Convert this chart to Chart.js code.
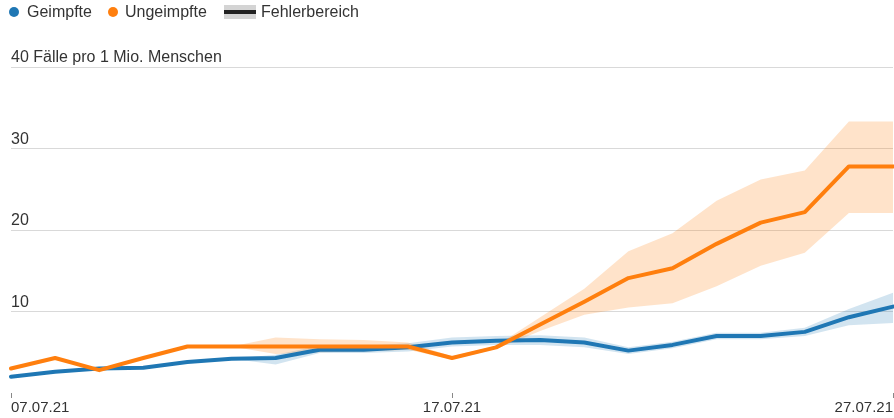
<!DOCTYPE html>
<html><head><meta charset="utf-8">
<script src="https://cdn.jsdelivr.net/npm/chart.js@4.4.1/dist/chart.umd.min.js"></script>
<style>
html,body{margin:0;padding:0;background:#fff;}
#wrap{position:relative;width:894px;height:418px;font-family:"Liberation Sans",Arial,sans-serif;color:#333;}
#c{position:absolute;left:0;top:0;}
.lg{position:absolute;top:3px;font-size:16px;line-height:18px;white-space:nowrap;}
.dot{position:absolute;width:10px;height:10px;border-radius:50%;top:7px;}
.band{position:absolute;left:224px;top:5px;width:32px;height:14px;background:#d4d4d4;}
.band:after{content:"";position:absolute;left:0;right:0;top:5px;height:4px;background:#222;}
</style></head>
<body><div id="wrap">
<canvas id="c" width="894" height="418"></canvas>
<div class="dot" style="left:9px;background:#1f77b4"></div><div class="lg" style="left:27px">Geimpfte</div>
<div class="dot" style="left:108px;background:#ff7f0e"></div><div class="lg" style="left:125px">Ungeimpfte</div>
<div class="band"></div><div class="lg" style="left:261px">Fehlerbereich</div>
</div>
<script>
const dates = ['07.07.21','08.07.21','09.07.21','10.07.21','11.07.21','12.07.21','13.07.21','14.07.21','15.07.21','16.07.21','17.07.21','18.07.21','19.07.21','20.07.21','21.07.21','22.07.21','23.07.21','24.07.21','25.07.21','26.07.21','27.07.21'];
const geimpfte      = [2.0,2.6,3.0,3.1,3.8,4.2,4.3,5.3,5.3,5.6,6.2,6.4,6.5,6.2,5.2,5.9,7.0,7.0,7.5,9.3,10.6];
const geimpfteHoch  = [2.0,2.6,3.0,3.1,3.8,4.2,4.7,5.8,5.8,6.1,6.8,7.0,7.1,6.8,5.6,6.3,7.4,7.4,8.0,10.3,12.3];
const geimpfteTief  = [2.0,2.6,3.0,3.1,3.8,4.2,3.5,4.9,4.9,5.1,5.7,5.9,5.9,5.6,4.8,5.5,6.6,6.6,7.0,8.3,8.6];
const ungeimpfte     = [3.0,4.3,2.8,4.3,5.7,5.7,5.7,5.7,5.7,5.7,4.3,5.6,8.4,11.2,14.1,15.3,18.3,20.9,22.2,27.8,27.8];
const ungeimpfteHoch = [3.0,4.3,2.8,4.3,5.7,5.7,6.8,6.6,6.5,6.2,4.5,5.8,9.3,12.8,17.4,19.6,23.6,26.2,27.3,33.3,33.3];
const ungeimpfteTief = [3.0,4.3,2.8,4.3,5.7,5.7,4.8,5.0,5.1,5.3,4.1,5.4,7.6,9.6,10.5,11.0,13.1,15.6,17.2,22.1,22.1];
const yTicks = [10,20,30,40];
const yTitle = 'Fälle pro 1 Mio. Menschen';
const shownX = ['07.07.21','17.07.21','27.07.21'];

const BLUE='#1f77b4', ORANGE='#ff7f0e';
const band = (data, color, fill) => ({data, borderColor:'transparent', borderWidth:0, pointRadius:0, backgroundColor:color, fill, tension:0});
new Chart(document.getElementById('c'), {
  type:'line',
  data:{labels:dates, datasets:[
    {label:'Ungeimpfte', data:ungeimpfte, borderColor:ORANGE, borderWidth:4, pointRadius:0, fill:false, tension:0, borderJoinStyle:'round', borderCapStyle:'round'},
    {label:'Geimpfte', data:geimpfte, borderColor:BLUE, borderWidth:4, pointRadius:0, fill:false, tension:0, borderJoinStyle:'round', borderCapStyle:'round'},
    band(ungeimpfteHoch,'rgba(255,127,14,0.22)','+1'),
    band(ungeimpfteTief,'rgba(255,127,14,0.22)',false),
    band(geimpfteHoch,'rgba(31,119,180,0.2)','+1'),
    band(geimpfteTief,'rgba(31,119,180,0.2)',false)
  ]},
  options:{
    responsive:false, animation:false, devicePixelRatio:1,
    layout:{padding:{top:67,left:11,right:0,bottom:0}},
    plugins:{legend:{display:false}, tooltip:{enabled:false}},
    scales:{
      x:{
        type:'category', offset:false,
        border:{display:false},
        grid:{drawOnChartArea:false, drawTicks:true, tickLength:5, color:(ctx)=> shownX.includes(dates[ctx.index]) ? '#888' : 'transparent'},
        ticks:{autoSkip:false, maxRotation:0, align:'inner', padding:1, color:'#333', font:{family:'"Liberation Sans", Arial, sans-serif', size:15},
          callback:(v,i)=> shownX.includes(dates[i]) ? dates[i] : ''}
      },
      y:{
        min:0, max:40,
        afterBuildTicks:(s)=>{ s.ticks = [0].concat(yTicks).map(v=>({value:v})); },
        border:{display:false},
        grid:{drawTicks:false, color:(ctx)=> ctx.tick && ctx.tick.value===0 ? 'transparent' : '#d9d9d9', lineWidth:1},
        ticks:{mirror:true, padding:0, labelOffset:-9, color:'#333', font:{family:'"Liberation Sans", Arial, sans-serif', size:16},
          callback:(v)=> v===0 ? '' : (v===40 ? v+' '+yTitle : String(v))}
      }
    }
  }
});
</script>
</body></html>
